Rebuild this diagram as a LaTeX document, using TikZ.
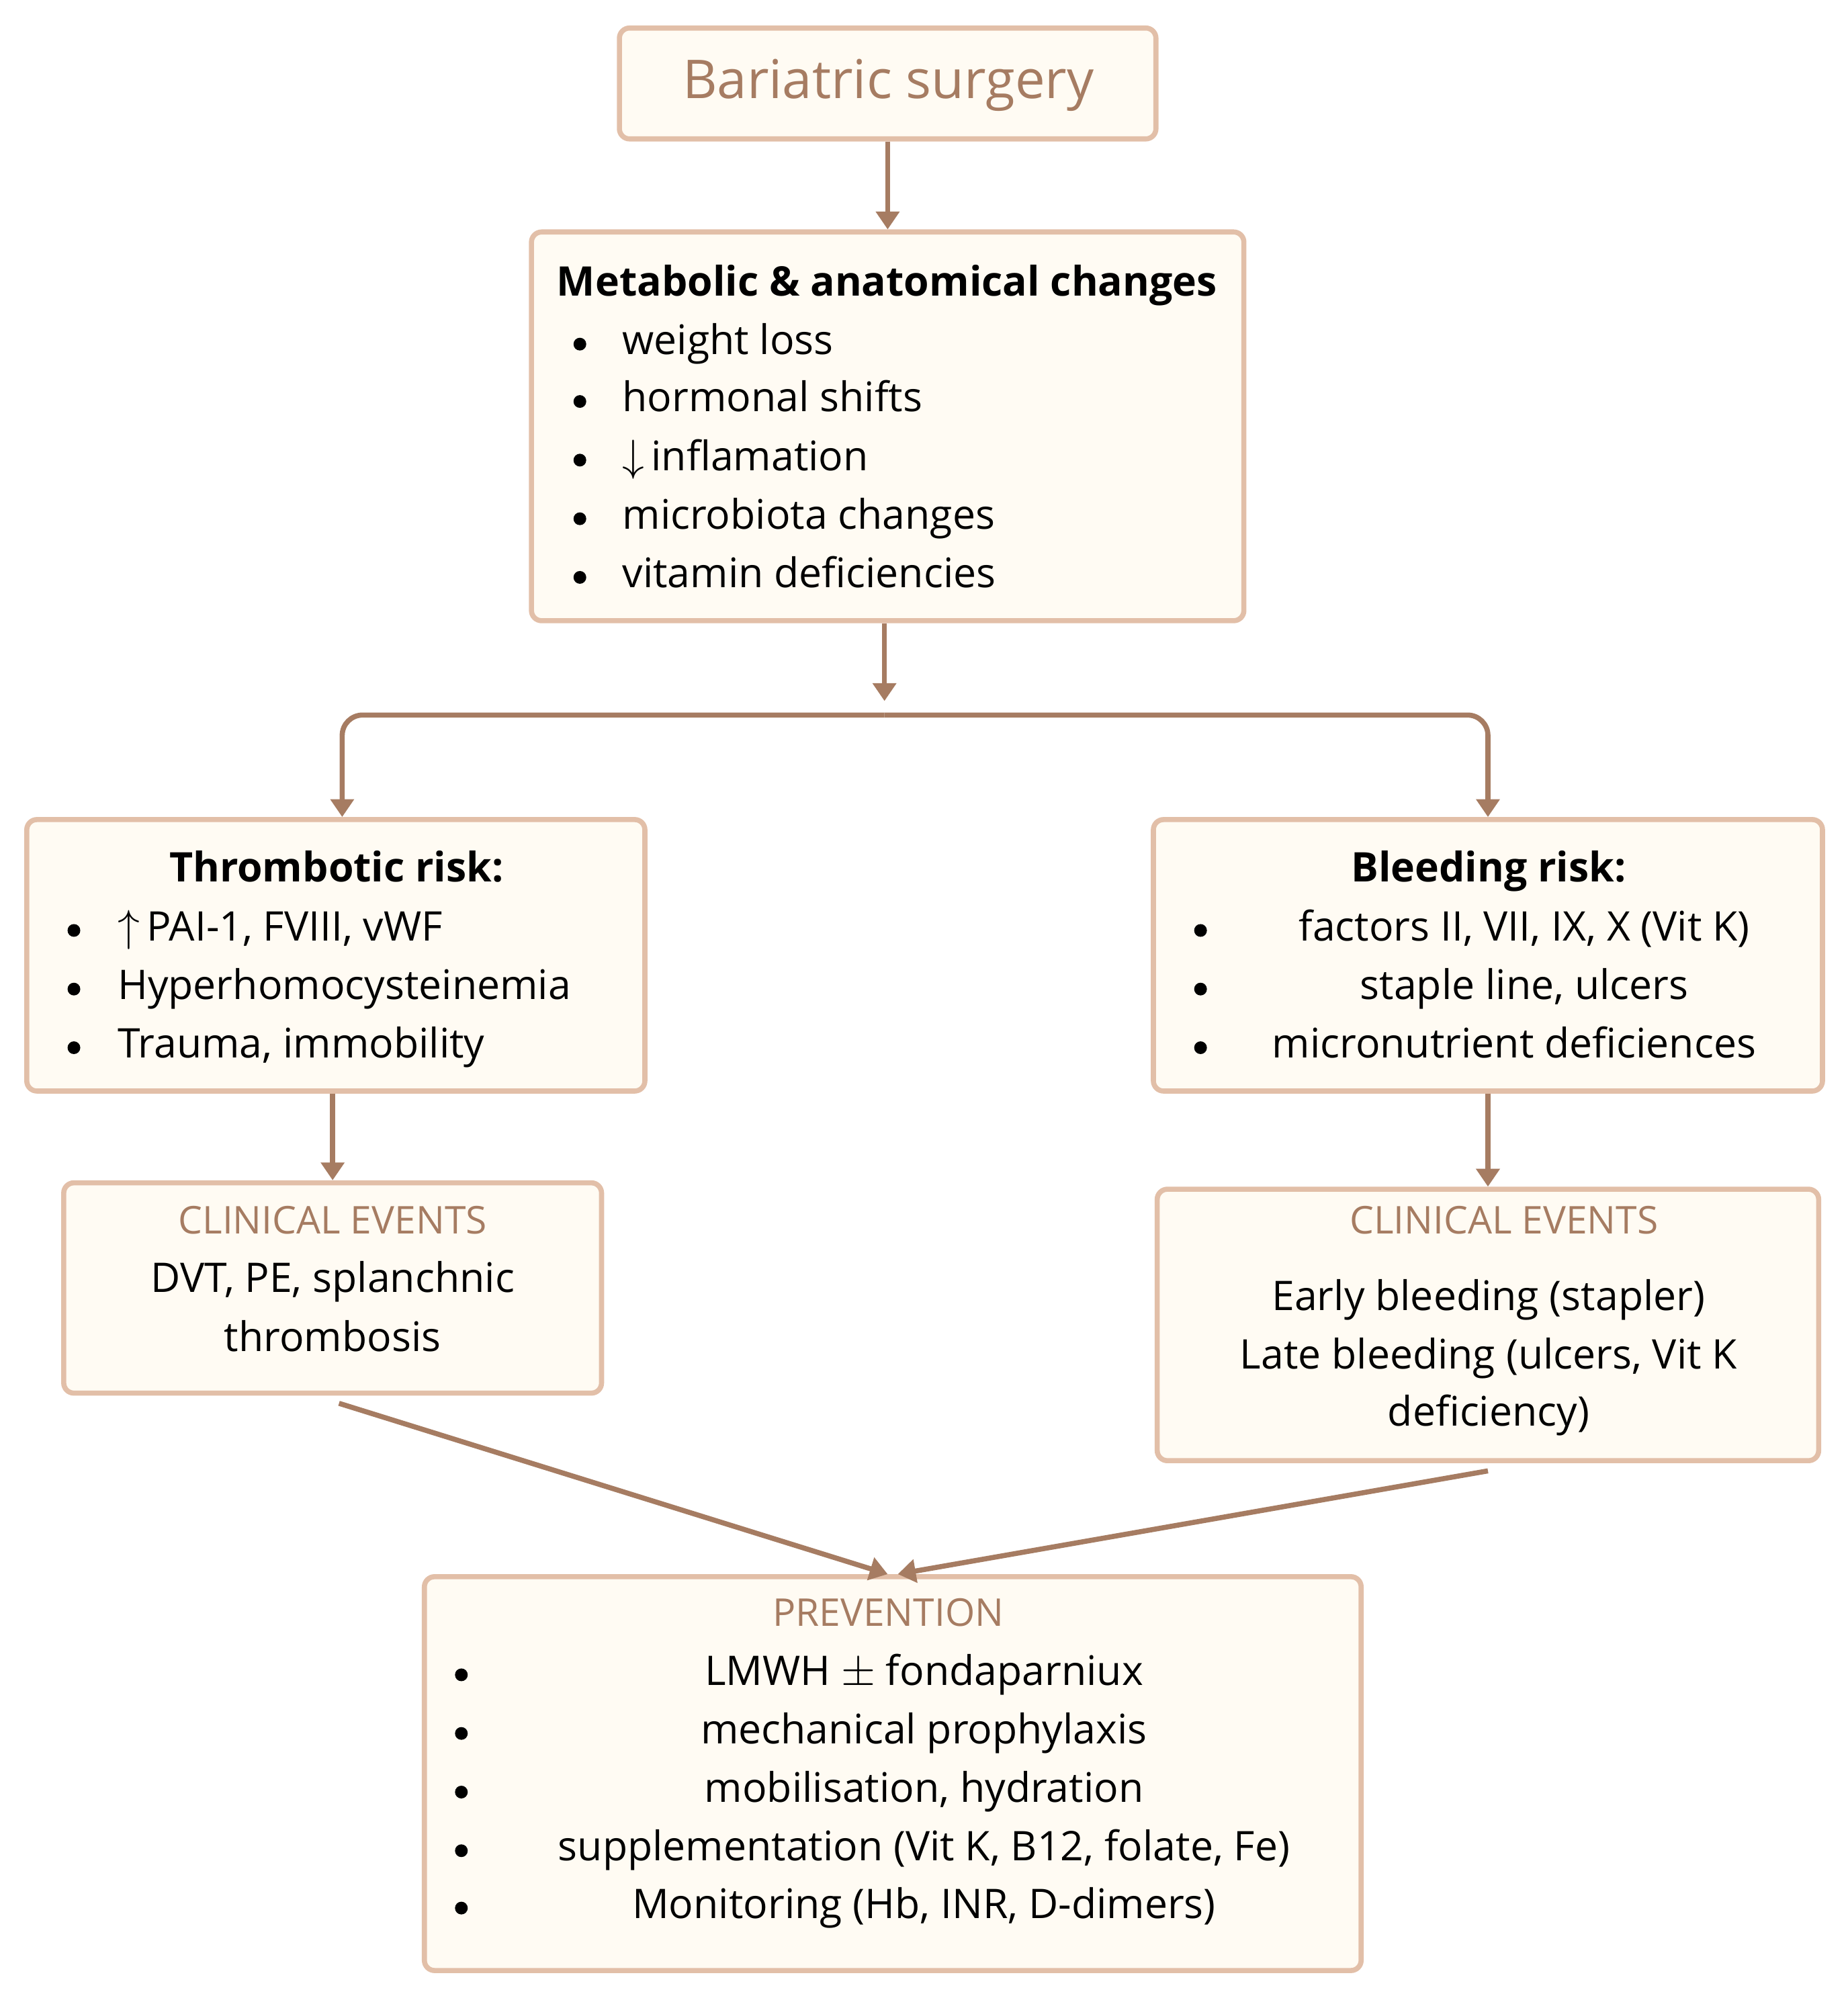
\documentclass[tikz,border=0pt]{standalone}
\usepackage{fontspec}
\setmainfont{Open Sans}
\usetikzlibrary{arrows.meta}
\definecolor{bord}{HTML}{E2BFA8}
\definecolor{fillc}{HTML}{FFFBF3}
\definecolor{arr}{HTML}{A67C62}
\begin{document}
\begin{tikzpicture}[x=0.5pt,y=-0.5pt,
 box/.style={draw=bord,fill=fillc,line width=2pt,rounded corners=4pt,inner sep=0pt},
 txt/.style={font=\fontsize{16}{19}\selectfont,inner sep=0pt,anchor=base},
 lt/.style={txt,anchor=base west},
 bul/.style={circle,fill=black,inner sep=0pt,minimum size=5pt},
 hd/.style={txt,font=\fontsize{16}{19}\selectfont\bfseries},
 ct/.style={txt,font=\fontsize{15}{18}\selectfont,text=arr},
 ar/.style={draw=arr,line width=2pt,-{Triangle[width=9pt,length=7pt]}}]
\useasboundingbox (0,0) rectangle (1450,1566);
% boxes
\node[box,minimum width=210.5pt,minimum height=43.5pt] (bar) at (696.5,65.5) {};
\node[box,minimum width=279.5pt,minimum height=152.5pt] (met) at (696.5,334.5) {};
\node[box,minimum width=242.5pt,minimum height=106.5pt] (thr) at (263.5,749.5) {};
\node[box,minimum width=262.5pt,minimum height=106.5pt] (ble) at (1167.5,749.5) {};
\node[box,minimum width=211pt,minimum height=82.5pt] (cel) at (261,1010.5) {};
\node[box,minimum width=259.5pt,minimum height=106.5pt] (cer) at (1167.5,1039.5) {};
\node[box,minimum width=367.5pt,minimum height=154.5pt] (prev) at (700.5,1391.5) {};
% texts
\node[txt,font=\fontsize{21}{25}\selectfont,text=arr,anchor=center] (t0) at (697,67) {Bariatric surgery};
\node[hd] (m0) at (696,232) {Metabolic \& anatomical changes};
\foreach \y/\t [count=\i] in {278/weight loss,323/hormonal shifts,369/$\downarrow$\,inflamation,415/microbiota changes,461/vitamin deficiencies}{
 \node[bul] (mb\i) at (455,\y-8) {};
 \node[lt] (mt\i) at (488,\y) {\t};}
\node[hd] (h1) at (264,692) {Thrombotic risk:};
\foreach \y/\t [count=\i] in {738/$\uparrow$\,PAI-1\char44{} FVIII\char44{} vWF,784/Hyperhomocysteinemia,830/Trauma\char44{} immobility}{
 \node[bul] (tb\i) at (58,\y-8) {};
 \node[lt] (tt\i) at (92,\y) {\t};}
\node[hd] (h2) at (1168,692) {Bleeding risk:};
\foreach \y/\cx/\t [count=\i] in {738/1196/factors II\char44{} VII\char44{} IX\char44{} X (Vit K),784/1196/staple line\char44{} ulcers,830/1188/micronutrient deficiences}{
 \node[bul] (bb\i) at (942,\y-8) {};
 \node[txt] (bt\i) at (\cx,\y) {\t};}
\node[ct] (c1) at (261,968) {CLINICAL EVENTS};
\node[txt] (c1a) at (261,1014) {DVT, PE, splanchnic};
\node[txt] (c1b) at (261,1060) {thrombosis};
\node[ct] (c2) at (1180,968) {CLINICAL EVENTS};
\node[txt] (c2a) at (1168,1028) {Early bleeding (stapler)};
\node[txt] (c2b) at (1168,1074) {Late bleeding (ulcers, Vit K};
\node[txt] (c2c) at (1168,1119) {deficiency)};
\node[ct] (p0) at (697,1276) {PREVENTION};
\foreach \y/\t [count=\i] in {1322/LMWH $\pm$ fondaparniux/DOAC,1368/mechanical prophylaxis,1414/mobilisation\char44{} hydration,1460/supplementation (Vit K\char44{} B12\char44{} folate\char44{} Fe),1505/Monitoring (Hb\char44{} INR\char44{} D-dimers)}{
 \node[bul] (pb\i) at (362,\y-8) {};
 \node[txt] (pt\i) at (725,\y) {\t};}
% connectors
\coordinate (split) at (694,550);
\draw[ar] (bar.south) -- (met.north);
\draw[ar] (met.south -| split) -- (split);
\draw[ar,rounded corners=8pt] (694,561) -| ([xshift=2.5pt]thr.north);
\draw[ar,rounded corners=8pt] (694,561) -| (ble.north);
\draw[ar] (thr.south -| cel.north) -- (cel.north);
\draw[ar] (ble.south) -- (cer.north -| ble.south);
\draw[ar] ([xshift=2.5pt,yshift=-3pt]cel.south) -- ([xshift=-2pt]prev.north);
\draw[ar] ([yshift=-3pt]cer.south) -- ([xshift=2pt]prev.north);
\end{tikzpicture}
\end{document}
